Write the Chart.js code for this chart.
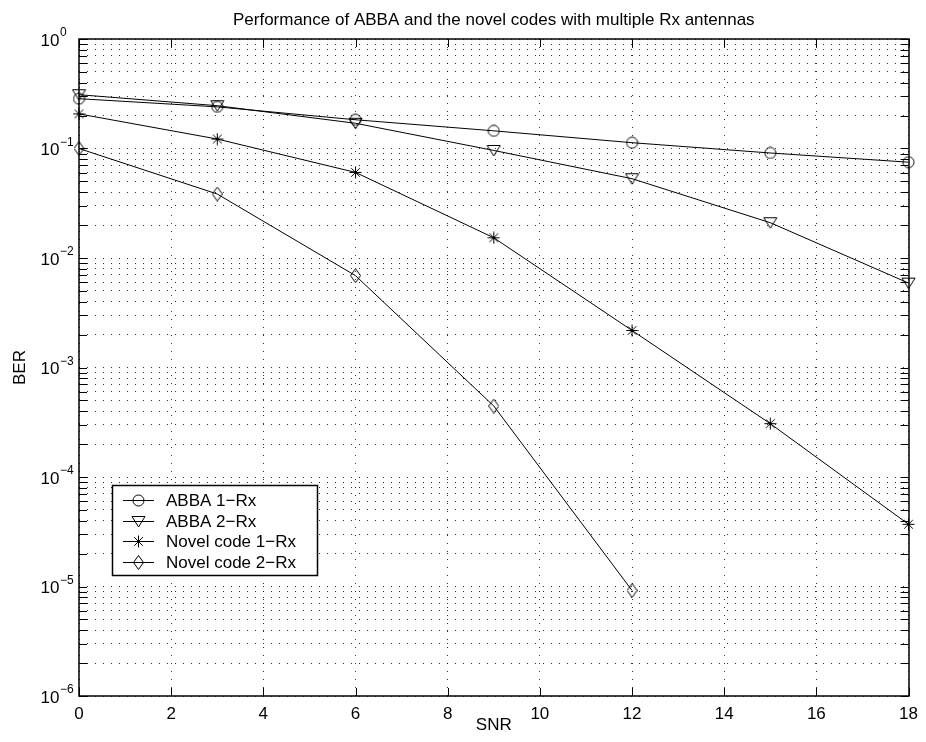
<!DOCTYPE html>
<html>
<head>
<meta charset="utf-8">
<script src="https://cdn.jsdelivr.net/npm/chart.js@4/dist/chart.umd.min.js"></script>
<style>
  html, body { margin: 0; padding: 0; background: #fff; }
  #wrap { width: 926px; height: 742px; position: relative; }
</style>
</head>
<body>
<div id="wrap"><canvas id="ber"></canvas></div>
<script>
// values
const snr = [0, 3, 6, 9, 12, 15, 18];
const abba1 = [0.285, 0.24, 0.183, 0.145, 0.113, 0.091, 0.075];
const abba2 = [0.31, 0.246, 0.17, 0.096, 0.053, 0.021, 0.0059];
const novel1 = [0.207, 0.122, 0.0605, 0.0153, 0.00218, 0.000307, 0.000037];
const novel2 = [0.1, 0.0384, 0.0069, 0.000445, 0.0000092];
const seriesNames = ['ABBA 1\u2212Rx', 'ABBA 2\u2212Rx', 'Novel code 1\u2212Rx', 'Novel code 2\u2212Rx'];
const xTicks = [0, 2, 4, 6, 8, 10, 12, 14, 16, 18];
const yDecades = [-6, -5, -4, -3, -2, -1, 0];
const titleText = 'Performance of ABBA and the novel codes with multiple Rx antennas';

const FONT = '"Liberation Sans", Arial, Helvetica, sans-serif';

function marker(w, h, draw) {
  const c = document.createElement('canvas');
  c.width = w;
  c.height = h;
  const g = c.getContext('2d');
  g.strokeStyle = '#000';
  g.lineWidth = 1;
  g.beginPath();
  draw(g);
  g.stroke();
  return c;
}

const markers = [
  marker(13, 13, g => { g.arc(6.5, 6.5, 5.5, 0, Math.PI * 2); }),
  marker(15, 13, g => { g.moveTo(1, 1.5); g.lineTo(14, 1.5); g.lineTo(7.5, 12); g.closePath(); }),
  marker(13, 13, g => {
    g.moveTo(6.5, 0.5); g.lineTo(6.5, 12.5);
    g.moveTo(0.5, 6.5); g.lineTo(12.5, 6.5);
    g.moveTo(2.2, 2.2); g.lineTo(10.8, 10.8);
    g.moveTo(10.8, 2.2); g.lineTo(2.2, 10.8);
  }),
  marker(11, 15, g => { g.moveTo(5.5, 0.5); g.lineTo(10.5, 7.5); g.lineTo(5.5, 14.5); g.lineTo(0.5, 7.5); g.closePath(); })
];

const pairs = vals => vals.map((v, i) => ({ x: snr[i], y: v }));

const datasets = [abba1, abba2, novel1, novel2].map((vals, i) => ({
  label: seriesNames[i],
  data: pairs(vals),
  borderColor: '#000',
  borderWidth: 1,
  backgroundColor: 'transparent',
  pointStyle: markers[i],
  pointRadius: 6,
  tension: 0,
  clip: false
}));

const yTickValues = [];
yDecades.forEach(k => {
  if (k === 0) { yTickValues.push(1); return; }
  for (let m = 1; m <= 9; m++) yTickValues.push(m * Math.pow(10, k));
});

const matlabFrame = {
  id: 'matlabFrame',
  afterDraw(chart) {
    const ctx = chart.ctx;
    const { left, right, top, bottom } = chart.chartArea;
    const xs = chart.scales.x;
    const ys = chart.scales.y;
    ctx.save();
    ctx.strokeStyle = '#000';
    ctx.lineWidth = 1;

    // inward tick marks
    ctx.beginPath();
    xTicks.forEach(v => {
      const px = Math.round(xs.getPixelForValue(v)) + 0.5;
      ctx.moveTo(px, bottom); ctx.lineTo(px, bottom - 8);
      ctx.moveTo(px, top); ctx.lineTo(px, top + 8);
    });
    yTickValues.forEach(v => {
      const py = Math.round(ys.getPixelForValue(v)) + 0.5;
      ctx.moveTo(left, py); ctx.lineTo(left + 8, py);
      ctx.moveTo(right, py); ctx.lineTo(right - 8, py);
    });
    ctx.stroke();

    // axes box
    ctx.lineWidth = 1.5;
    ctx.strokeRect(Math.round(left), Math.round(top), Math.round(right - left), Math.round(bottom - top));

    // y tick labels 10^k
    ctx.fillStyle = '#000';
    yDecades.forEach(k => {
      const py = ys.getPixelForValue(Math.pow(10, k));
      ctx.font = '17px ' + FONT;
      ctx.textAlign = 'right';
      ctx.textBaseline = 'alphabetic';
      ctx.fillText('10', left - 19.5, py + 6.5);
      ctx.font = '12px ' + FONT;
      ctx.textAlign = 'left';
      ctx.fillText(k === 0 ? '0' : '\u2212' + (-k), left - 19, py - 3);
    });

    // title
    ctx.font = '17px ' + FONT;
    ctx.textAlign = 'center';
    ctx.textBaseline = 'alphabetic';
    ctx.fillText(titleText, (left + right) / 2, 25);

    // legend
    const lx = 112, ly = 485, lw = 205, lh = 90;
    ctx.fillStyle = '#fff';
    ctx.fillRect(lx, ly, lw, lh);
    ctx.lineWidth = 1.5;
    ctx.strokeStyle = '#000';
    ctx.strokeRect(lx + 0.5, ly + 0.5, lw, lh);
    ctx.lineWidth = 1;
    ctx.fillStyle = '#000';
    ctx.font = '17px ' + FONT;
    ctx.textAlign = 'left';
    ctx.textBaseline = 'middle';
    chart.data.datasets.forEach((ds, i) => {
      const ry = Math.round(ly + 15 + i * 20.7) + 0.5;
      ctx.beginPath();
      ctx.moveTo(123, ry); ctx.lineTo(154, ry);
      ctx.stroke();
      const m = ds.pointStyle;
      ctx.drawImage(m, Math.round(138.5 - m.width / 2), Math.round(ry - m.height / 2));
      ctx.fillText(ds.label, 166, ry + 1);
    });
    ctx.restore();
  }
};

new Chart(document.getElementById('ber'), {
  type: 'line',
  data: { datasets },
  options: {
    responsive: true,
    maintainAspectRatio: false,
    animation: false,
    devicePixelRatio: 1,
    layout: { padding: { top: 39, right: 14, left: 0, bottom: 0 } },
    plugins: {
      legend: { display: false },
      title: { display: false },
      tooltip: { enabled: false }
    },
    scales: {
      x: {
        type: 'linear',
        min: 0,
        max: 18,
        afterBuildTicks: s => { s.ticks = xTicks.map(v => ({ value: v })); },
        afterFit: s => { s.height = 46; },
        ticks: { color: '#000', font: { family: FONT, size: 17 }, padding: 8, autoSkip: false, maxRotation: 0 },
        grid: { color: 'rgba(0,0,0,0.8)', lineWidth: 1, drawTicks: false },
        border: { display: false, dash: [1, 7] },
        title: { display: true, text: 'SNR', color: '#000', font: { family: FONT, size: 17 }, padding: { top: 0, bottom: 6 } }
      },
      y: {
        type: 'logarithmic',
        min: 1e-6,
        max: 1,
        afterBuildTicks: s => { s.ticks = yTickValues.map(v => ({ value: v })); },
        afterFit: s => { s.width = 79; },
        ticks: { callback: () => '', autoSkip: false },
        grid: { color: 'rgba(0,0,0,0.8)', lineWidth: 1, drawTicks: false },
        border: { display: false, dash: [1, 7] },
        title: { display: true, text: 'BER', color: '#000', font: { family: FONT, size: 17 }, padding: { top: 10, bottom: 0 } }
      }
    }
  },
  plugins: [matlabFrame]
});
</script>
</body>
</html>
